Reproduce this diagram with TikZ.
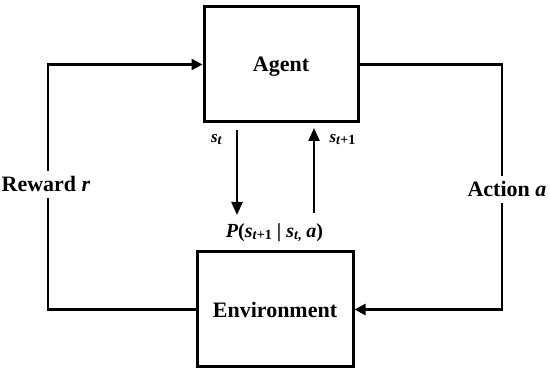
\documentclass[tikz,border=0pt]{standalone}
\usepackage{fontspec}
\setmainfont{Liberation Serif}
\usetikzlibrary{arrows.meta}
\newcommand\lowsub[1]{\raisebox{-1.5pt}{\fontsize{14}{14}\selectfont #1}}
\begin{document}
\begin{tikzpicture}[x=1pt,y=-1pt,
  box/.style={draw,line width=3pt,inner sep=0pt,font=\fontsize{22}{24}\selectfont\bfseries},
  conn/.style={line width=2.4pt},
  arr/.style={conn,-{Triangle[length=11pt,width=11pt]}},
  varr/.style={conn,-{Triangle[length=13pt,width=11pt]}},
  lbl/.style={fill=white,inner xsep=1pt,inner ysep=6pt,anchor=base,font=\fontsize{22}{24}\selectfont\bfseries},
  small/.style={inner sep=0pt,anchor=base,font=\fontsize{18}{20}\selectfont\bfseries}]
\useasboundingbox (0,0) rectangle (550,374);
\node[box,minimum width=154pt,minimum height=115pt,text depth=0pt] (agent) at (281,64.5) {Agent};
\node[box,minimum width=156pt,minimum height=115pt] (env) at (275,309.5) {Environment};
\coordinate (lc) at (48,0);
\coordinate (rc) at (502,0);
\draw[arr] (env.west) -- (env.west -| lc) -- (agent.west -| lc) -- (agent.west);
\draw[arr] (agent.east) -- (agent.east -| rc) -- (env.east -| rc) -- (env.east);
\node[lbl] (reward) at (46,192) {Reward \textit{r}};
\node[lbl] (action) at (507,197) {Action \textit{a}};
\coordinate (d1) at (237,130);
\coordinate (d2) at (237,215);
\coordinate (u1) at (314,213);
\coordinate (u2) at (314,128);
\draw[varr] (d1) -- (d2);
\draw[varr] (u1) -- (u2);
\node[small,font=\fontsize{17}{20}\selectfont\bfseries] (st) at (216.5,143) {\textit{s}\lowsub{\textit{t}}};
\node[small,font=\fontsize{17}{20}\selectfont\bfseries] (st1) at (342.5,143) {\textit{s}\lowsub{\textit{t}+1}};
\node[small,font=\fontsize{20}{22}\selectfont\bfseries] (p) at (274.5,238) {\textit{P}(\textit{s}\lowsub{\textit{t}+1} \textbar{} \textit{s}\lowsub{\textit{t},} \textit{a})};
\end{tikzpicture}
\end{document}
